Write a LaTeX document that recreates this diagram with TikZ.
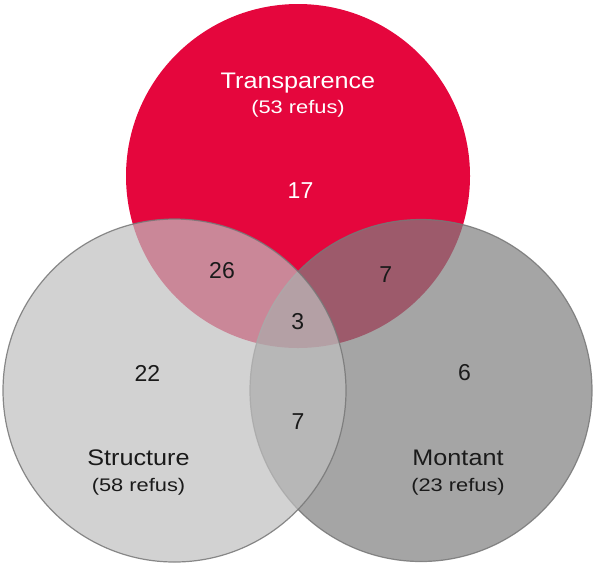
\documentclass[tikz,border=0pt]{standalone}
\usepackage{fontspec}
\setmainfont{Liberation Sans}
\newfontfamily\labfont[FakeStretch=1.12]{Liberation Sans}
\newfontfamily\subfont[FakeStretch=1.2]{Liberation Sans}
\newfontfamily\numfont{Liberation Sans}
\definecolor{vred}{HTML}{E5063D}
\definecolor{lgray}{HTML}{BFBFBF}
\definecolor{dgray}{HTML}{7F7F7F}
\definecolor{edge}{HTML}{777777}
\definecolor{txt}{HTML}{1A1A1A}
\begin{document}
\begin{tikzpicture}[x=1pt,y=-1pt,
  title/.style={anchor=base,inner sep=0pt,font=\labfont\fontsize{22.5}{26}\selectfont},
  sub/.style={anchor=base,inner sep=0pt,font=\subfont\fontsize{18.2}{22}\selectfont},
  num/.style={anchor=base,inner sep=0pt,text=txt,font=\numfont\fontsize{23}{27}\selectfont},
  setcirc/.style={draw=edge,draw opacity=0.85,line width=1.2pt,fill opacity=0.7}]
\useasboundingbox (0,0) rectangle (593,566);
\fill[vred] (298,176) circle[radius=172];
\path[setcirc,fill=dgray] (421,390.5) circle[radius=171];
\path[setcirc,fill=lgray] (174.5,390.5) circle[radius=171.5];
% labels
\node[title,text=white] (tname) at (298,88.3) {Transparence};
\node[sub,text=white] (tcount) at (298,113.3) {(53 refus)};
\node[title,text=txt] (sname) at (138.5,465) {Structure};
\node[sub,text=txt] (scount) at (138.5,491.5) {(58 refus)};
\node[title,text=txt] (mname) at (458,465) {Montant};
\node[sub,text=txt] (mcount) at (458,491.5) {(23 refus)};
% counts
\node[num,text=white] (n17) at (300.5,198.5) {17};
\node[num] (n26) at (222,278.3) {26};
\node[num] (n7a) at (385.8,282.3) {7};
\node[num] (n3) at (297.8,329.3) {3};
\node[num] (n22) at (147.5,381.7) {22};
\node[num] (n6) at (464.5,380) {6};
\node[num] (n7b) at (298,429.5) {7};
\end{tikzpicture}
\end{document}
